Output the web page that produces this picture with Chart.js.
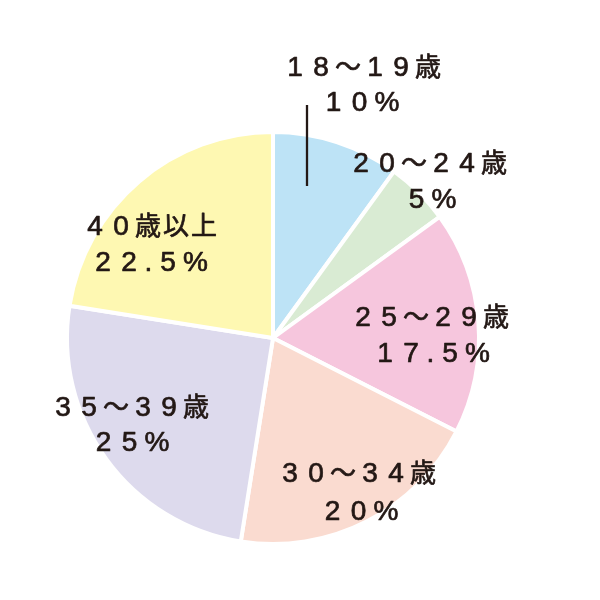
<!DOCTYPE html>
<html>
<head>
<meta charset="utf-8">
<script src="https://cdn.jsdelivr.net/npm/chart.js@4"></script>
<style>
html,body{margin:0;padding:0;background:#fff;}
#wrap{width:600px;height:600px;position:relative;}
</style>
</head>
<body>
<div id="wrap"><canvas id="c" width="600" height="600"></canvas></div>
<script>
const categories = ['18〜19歳','20〜24歳','25〜29歳','30〜34歳','35〜39歳','40歳以上'];
const values = [10, 5, 17.5, 20, 25, 22.5];
const percentLabels = ['10%','5%','17.5%','20%','25%','22.5%'];
const colors = ['#bde3f6','#d9ebd3','#f6c6dd','#fadbd0','#dddaed','#fef8b2'];

// label placement (pixel offsets of text centres from pie centre): [line1 dx, line1 dy, line2 dx, line2 dy]
const labelPos = [
  [89,-272, 88,-237],
  [155,-176, 158,-140],
  [157,-22, 159,14],
  [84,134, 87,172],
  [-143,68, -142,103],
  [-123,-113, -123,-77]
];

const LATIN_FONT = '28px "Liberation Sans", Arial, sans-serif';
const CJK_FONT = '26px "Noto Sans CJK JP", sans-serif';
function isLatin(ch) { return /[0-9%.]/.test(ch); }
function cellWidth(ch) {
  if (/[0-9]/.test(ch)) return 26;
  if (ch === '.') return 13;
  if (ch === '%') return 29;
  return 28;
}
function drawSpaced(ctx, text, cx, cy) {
  const chars = Array.from(text);
  const ws = chars.map(cellWidth);
  const total = ws.reduce((a, b) => a + b, 0);
  let x = cx - total / 2;
  const base = cy + 10;
  chars.forEach((ch, i) => {
    ctx.font = isLatin(ch) ? LATIN_FONT : CJK_FONT;
    ctx.fillText(ch, x + ws[i] / 2, base);
    ctx.strokeText(ch, x + ws[i] / 2, base);
    x += ws[i];
  });
}

const labelPlugin = {
  id: 'labels',
  afterDatasetsDraw(chart) {
    const ctx = chart.ctx;
    const arc = chart.getDatasetMeta(0).data[0];
    const cx = arc.x, cy = arc.y;
    ctx.save();
    ctx.fillStyle = '#231815';
    ctx.strokeStyle = '#231815';
    ctx.lineWidth = 0.7;
    ctx.lineJoin = 'round';
    ctx.textAlign = 'center';
    ctx.textBaseline = 'alphabetic';
    categories.forEach((cat, i) => {
      const p = labelPos[i];
      drawSpaced(ctx, cat, cx + p[0], cy + p[1]);
      drawSpaced(ctx, percentLabels[i], cx + p[2], cy + p[3]);
    });
    // leader line for first slice
    ctx.lineWidth = 2.3;
    ctx.beginPath();
    ctx.moveTo(cx + 34, cy - 233);
    ctx.lineTo(cx + 34, cy - 152);
    ctx.stroke();
    ctx.restore();
  }
};

new Chart(document.getElementById('c'), {
  type: 'pie',
  data: {
    labels: categories,
    datasets: [{
      data: values,
      backgroundColor: colors,
      borderColor: '#ffffff',
      borderWidth: 4
    }]
  },
  options: {
    responsive: false,
    animation: false,
    layout: { padding: { left: 65, right: 119, top: 130, bottom: 54 } },
    plugins: { legend: { display: false }, tooltip: { enabled: false } }
  },
  plugins: [labelPlugin]
});
</script>
</body>
</html>
